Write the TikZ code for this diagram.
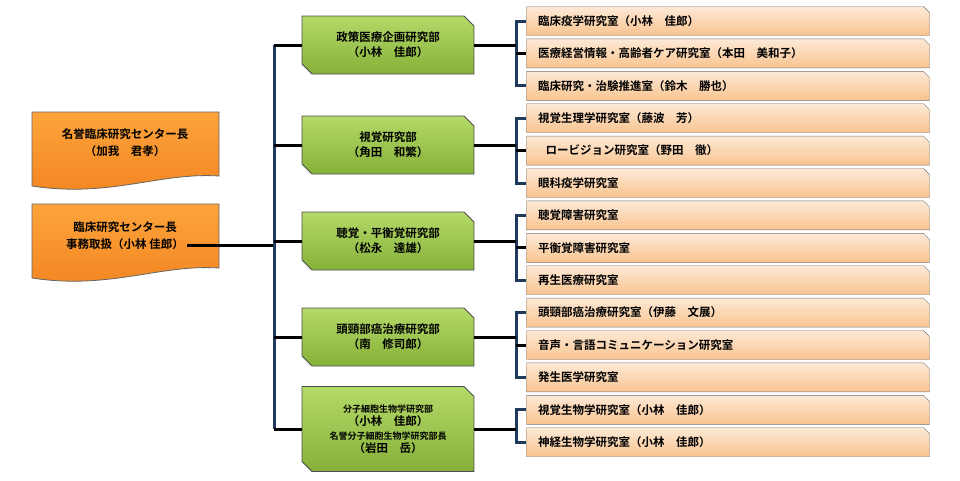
\documentclass[tikz,border=0pt]{standalone}
\usepackage{fontspec}
\setmainfont{Noto Sans CJK JP}[BoldFont={* Bold}]
\usetikzlibrary{positioning,shapes.misc}
\definecolor{trunk}{HTML}{1F3A5C}
\definecolor{grtop}{HTML}{B4DA68}
\definecolor{grbot}{HTML}{86B03A}
\definecolor{labtop}{HTML}{FDE9D6}
\definecolor{labbot}{HTML}{F9C490}
\definecolor{ortop}{HTML}{FDA43C}
\definecolor{orbot}{HTML}{F28420}
\tikzset{
  dept/.style={chamfered rectangle, chamfered rectangle corners={north east,south west},
    chamfered rectangle xsep=5pt, chamfered rectangle ysep=5pt,
    draw=black!70, thick, top color=grtop, bottom color=grbot,
    minimum width=172pt, minimum height=58pt, align=center, font=\bfseries\fontsize{11.5}{15}\selectfont,
    inner sep=2pt},
  lab/.style={chamfered rectangle, chamfered rectangle corners=north east,
    chamfered rectangle xsep=3pt, chamfered rectangle ysep=3pt,
    draw=black!55, top color=labtop, bottom color=labbot,
    minimum width=403pt, minimum height=29pt, text width=380pt, align=left,
    font=\bfseries\fontsize{11.5}{12}\selectfont, inner sep=2pt},
  chief/.style={draw=black!60, thick, top color=ortop, bottom color=orbot},
  hline/.style={line width=3pt, black},
  vline/.style={line width=3pt, trunk}
}
\begin{document}
\begin{tikzpicture}[x=1pt,y=-1pt]
  \useasboundingbox (0,0) rectangle (960,480);
  % center heads
  \foreach \top in {112,204}{
    \path[chief] (32,\top) -- (219,\top) -- (219,\top+64)
      .. controls (160,\top+60) and (110,\top+86) .. (32,\top+74) -- cycle;
  }
  \node[font=\bfseries\fontsize{11.5}{17}\selectfont, align=center] (hon) at (125,143)
    {名誉臨床研究センター長\\（加我　君孝）};
  \node[font=\bfseries\fontsize{11.5}{17}\selectfont, align=center] (head) at (125,236)
    {臨床研究センター長\\事務取扱（小林 佳郎）};
  \coordinate (hj) at (219,245);
  % departments
  \node[dept] (d1) at (388,45) {政策医療企画研究部\\（小林　佳郎）};
  \node[dept] (d2) at (388,145) {視覚研究部\\（角田　和繁）};
  \node[dept] (d3) at (388,241) {聴覚・平衡覚研究部\\（松永　達雄）};
  \node[dept] (d4) at (388,337) {頭頸部癌治療研究部\\（南　修司郎）};
  \node[dept, minimum height=85pt, font=\bfseries\fontsize{9}{13.5}\selectfont] (d5) at (388,429)
    {分子細胞生物学研究部\\{\fontsize{11.5}{13.5}\selectfont（小林　佳郎）}\\名誉分子細胞生物学研究部長\\{\fontsize{11.5}{13.5}\selectfont（岩田　岳）}};
  % labs
  \node[lab] (l11) at (728,21) {臨床疫学研究室（小林　佳郎）};
  \node[lab, below=3pt of l11] (l12) {医療経営情報・高齢者ケア研究室（本田　美和子）};
  \node[lab, below=3pt of l12] (l13) {臨床研究・治験推進室（鈴木　勝也）};
  \node[lab, below=3pt of l13] (l21) {視覚生理学研究室（藤波　芳）};
  \node[lab, below=3pt of l21] (l22) {\ \ ロービジョン研究室（野田　徹）};
  \node[lab, below=3pt of l22] (l23) {眼科疫学研究室};
  \node[lab, below=3pt of l23] (l31) {聴覚障害研究室};
  \node[lab, below=3pt of l31] (l32) {平衡覚障害研究室};
  \node[lab, below=3pt of l32] (l33) {再生医療研究室};
  \node[lab, below=3pt of l33] (l41) {頭頸部癌治療研究室（伊藤　文展）};
  \node[lab, below=3pt of l41] (l42) {音声・言語コミュニケーション研究室};
  \node[lab, below=3pt of l42] (l43) {発生医学研究室};
  \node[lab, below=3pt of l43] (l51) {視覚生物学研究室（小林　佳郎）};
  \node[lab, below=3pt of l51] (l52) {神経生物学研究室（小林　佳郎）};
  % trunk
  \coordinate (tk) at (274,0);
  \draw[hline] (head.east |- hj) -- (hj) -- (hj -| tk);
  \draw[vline] (d1.west -| tk) -- (d5.west -| tk);
  \foreach \d in {d1,d2,d3,d4,d5}
    \draw[hline] (\d.west -| tk) -- (\d.west);
  % brackets
  \coordinate (bk) at (516,0);
  \foreach \d/\a/\b in {d1/l11/l13,d2/l21/l23,d3/l31/l33,d4/l41/l43,d5/l51/l52}{
    \draw[vline] (\a.west) -- (\a.west -| bk) -- (\b.west -| bk) -- (\b.west);
    \draw[hline] (\d.east) -- (\d.east -| bk);
  }
  \foreach \l in {l12,l22,l32,l42}
    \draw[hline] (\l.west -| bk) -- (\l.west);
\end{tikzpicture}
\end{document}
